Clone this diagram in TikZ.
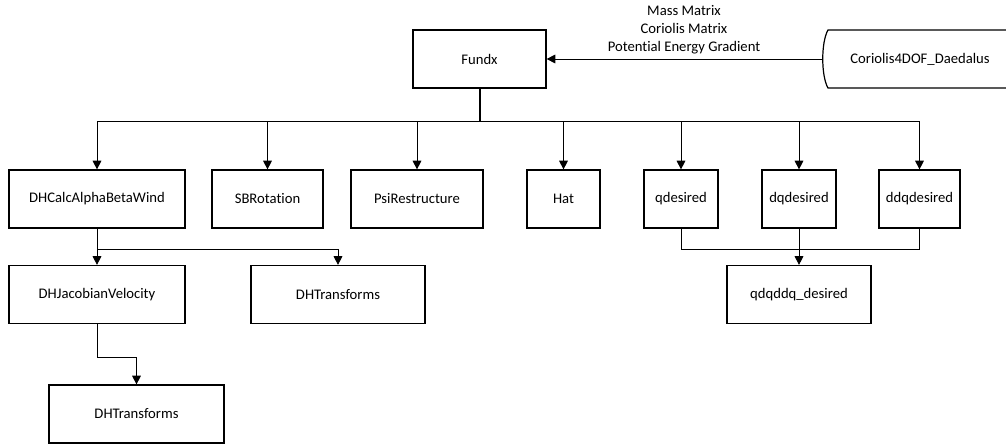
\documentclass[tikz,border=0pt]{standalone}
\usepackage{fontspec}
\setmainfont{Carlito}[Ligatures=NoCommon]
\usetikzlibrary{arrows.meta,calc}

\begin{document}
\begin{tikzpicture}[x=0.75pt, y=-0.75pt,
        font=\fontsize{11}{13.5}\selectfont,
        every path/.style={line width=0.7pt},
        box/.style={draw, line width=0.9pt, inner sep=0pt, minimum width=#1*0.75pt, minimum height=58*0.75pt},
        arr/.style={-{Triangle[length=6.5pt,width=6.5pt]}}]
        \useasboundingbox (0,0) rectangle (1006,445);

        % top row
        \node[box=133] (fundx) at (479.5,59) {Fundx};
        \node (coriolis) at (920,59) {Coriolis4DOF\_Daedalus};
        \coordinate (corw) at (822,59);
        \draw[line width=0.9pt] (1006,30) -- (828,30) .. controls (821,42) and (821,76) .. (828,88) -- (1006,88);
        \draw[arr] (corw) -- (fundx.east);
        \node[align=center] (data) at (684,29.5) {Mass Matrix\\Coriolis Matrix\\Potential Energy Gradient};

        % second row
        \node[box=176] (calc) at (97,199) {DHCalcAlphaBetaWind};
        \node[box=111] (sbrot) at (267.5,199) {SBRotation};
        \node[box=132] (psi) at (417,199) {PsiRestructure};
        \node[box=73] (hat) at (563.5,199) {Hat};
        \node[box=74] (qdes) at (681,199) {qdesired};
        \node[box=74] (dqdes) at (799,199) {dqdesired};
        \node[box=81] (ddqdes) at (919.5,199) {ddqdesired};

        \coordinate (bus) at (479.5,121);
        \draw[line width=1.5pt] (fundx.south) -- (bus);
        \foreach \n in {calc,sbrot,psi,hat,qdes,dqdes,ddqdes}
            \draw[arr] (bus) -| (\n.north);

        % third row
        \node[box=176] (jacvel) at (97,294.5) {DHJacobianVelocity};
        \node[box=174] (transa) at (338,294.5) {DHTransforms};
        \node[box=144] (qdqddq) at (799,294.5) {qdqddq\_desired};

        \draw[arr] (calc.south) -- (jacvel.north);
        \draw[arr] (calc.south) ++(0,21) -| (transa.north);
        \draw (qdes.south) -- ++(0,21) -| (ddqdes.south);
        \draw[arr] (dqdes.south) -- (qdqddq.north);

        % fourth row
        \node[box=175] (transb) at (136.5,414) {DHTransforms};
        \draw[arr] (jacvel.south) -- ++(0,33) -| (transb.north);
    \end{tikzpicture}
\end{document}
